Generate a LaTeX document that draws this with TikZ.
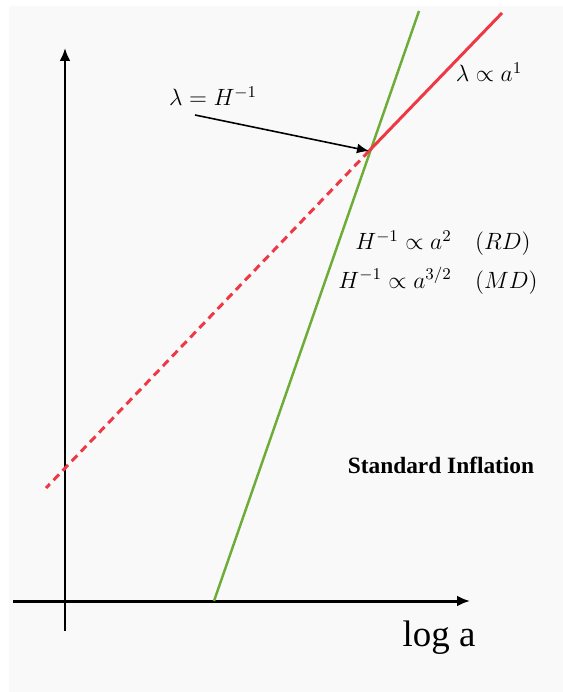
\RequirePackage{fix-cm}
\documentclass[tikz,border=0pt]{standalone}
\usepackage[no-math]{fontspec}
\newfontfamily\timesfont{Liberation Serif}
\usetikzlibrary{arrows.meta}
\definecolor{bggray}{RGB}{249,249,249}
\definecolor{hgreen}{RGB}{110,172,56}
\definecolor{lamred}{RGB}{238,56,68}
\begin{document}
\begin{tikzpicture}[x=0.02cm, y=-0.02cm,
    axis/.style={line width=1.7pt, -{Latex[length=2.6mm, width=2.2mm]}},
    greenline/.style={hgreen, line width=1.4pt},
    redline/.style={lamred, line width=1.7pt},
    mathlabel/.style={font=\fontsize{13.4}{16}\selectfont, inner sep=0pt}]
        \useasboundingbox (0,0) rectangle (563,692);
        \fill[bggray] (9,6) rectangle (563,692);
        % Coordinates
        \coordinate (ybottom) at (65,631);
        \coordinate (ytop) at (65,48);
        \coordinate (xleft) at (13,601);
        \coordinate (xright) at (470,601);
        \coordinate (cross) at (369,151);
        \coordinate (greenfoot) at (214,601);
        \coordinate (greentop) at (419,11);
        \coordinate (redtop) at (502,13);
        \coordinate (redend) at (46,488);
        \coordinate (arrowstart) at (195,115);
        % Nodes
        \node (lamlabel) [mathlabel] at (213,96) {$\lambda = H^{-1}$};
        \node (proplabel) [mathlabel] at (489,72) {$\lambda \propto a^{1}$};
        \node (rdlabel) [mathlabel, anchor=east] at (531,243) {$H^{-1} \propto a^{2} \quad (RD)$};
        \node (mdlabel) [mathlabel, anchor=east] at (538,281) {$H^{-1} \propto a^{3/2} \quad (MD)$};
        \node (inflabel) [font=\timesfont\bfseries\fontsize{13.3}{16}\selectfont, inner sep=0pt] at (441,465) {Standard Inflation};
        \node (xlabel) [font=\timesfont\fontsize{21}{25}\selectfont, inner sep=0pt] at (439,638) {log a};
        % Axes
        \draw[axis] (ybottom) -- (ytop);
        \draw[axis] (xleft) -- (xright);
        % Lines
        \draw[greenline] (greenfoot) -- (greentop);
        \draw[redline] (cross) -- (redtop);
        \draw[redline, dash pattern=on 4.5pt off 3pt] (cross) -- (redend);
        \draw[line width=0.9pt, -{Latex[length=2.4mm, width=2mm]}] (arrowstart) -- (cross);
\end{tikzpicture}
\end{document}
